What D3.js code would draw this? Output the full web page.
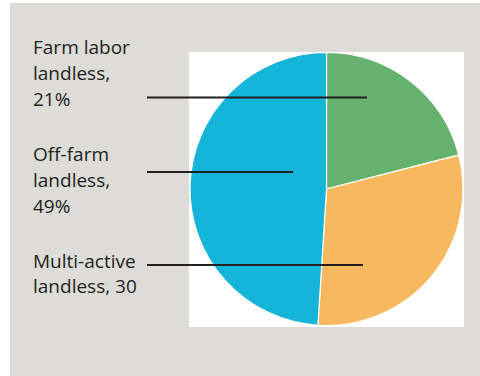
<!DOCTYPE html>
<html><head><meta charset="utf-8">
<script src="https://cdn.jsdelivr.net/npm/d3@7"></script>
<style>html,body{margin:0;padding:0;background:#fff;}svg{display:block;}</style>
</head><body>
<svg id="chart" width="480" height="376"></svg>
<script>
// Data
const categories = ["Farm labor landless", "Multi-active landless", "Off-farm landless"];
const values = [21, 30, 49];
const colors = ["#65b16e", "#f8b860", "#14b5d8"];
const labelLines = [
  ["Farm labor", "landless,", "21%"],
  ["Multi-active", "landless, 30"],
  ["Off-farm", "landless,", "49%"]
];

const svg = d3.select("#chart");
svg.append("rect").attr("x", 10).attr("y", 3).attr("width", 470).attr("height", 373).attr("fill", "#dddcd8");
svg.append("rect").attr("x", 189).attr("y", 52).attr("width", 275).attr("height", 275).attr("fill", "#ffffff");

const cx = 326.5, cy = 189, r = 136.5;
const pie = d3.pie().sort(null).value(d => d)(values);
const arc = d3.arc().innerRadius(0).outerRadius(r);
const g = svg.append("g").attr("transform", `translate(${cx},${cy})`);
g.selectAll("path").data(pie).join("path")
  .attr("d", arc)
  .attr("fill", (d, i) => colors[i])
  .attr("stroke", "#ffffff").attr("stroke-width", 1.2);

// label layout: first baseline y, leader line y and end x
const layout = [
  {y: 54, lineY: 97.5, x2: 367},
  {y: 267.5, lineY: 265, x2: 363},
  {y: 161, lineY: 172, x2: 293}
];
const lineH = 26;
labelLines.forEach((lines, i) => {
  const L = layout[i];
  const t = svg.append("text").attr("x", 33).attr("y", L.y)
    .attr("font-family", "'Open Sans', sans-serif").attr("font-size", 19)
    .attr("fill", "#231f20");
  lines.forEach((s, j) => {
    t.append("tspan").attr("x", 33).attr("y", L.y + j * (i === 1 ? 25.5 : lineH)).text(s);
  });
  svg.append("line").attr("x1", 147).attr("x2", L.x2).attr("y1", L.lineY).attr("y2", L.lineY)
    .attr("stroke", "#231f20").attr("stroke-width", 2.2);
});
</script>
</body></html>
